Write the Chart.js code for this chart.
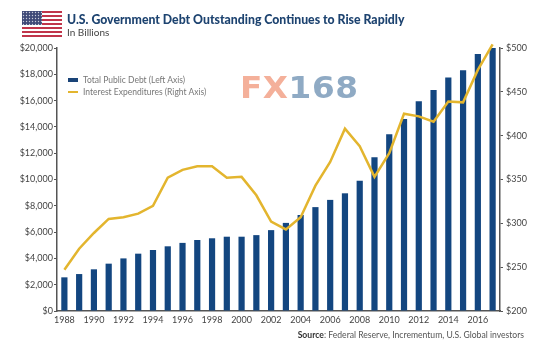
<!DOCTYPE html>
<html lang="en">
<head>
    <meta charset="UTF-8">
    <title>U.S. Government Debt Outstanding</title>
    <script src="https://cdn.jsdelivr.net/npm/chart.js"></script>
    <style>
        html, body { margin: 0; padding: 0; background: #fff; }
        #wrap { position: relative; width: 550px; height: 351px; overflow: hidden; font-family: Lato, "Open Sans", sans-serif; }
        #wrap div, #wrap svg { position: absolute; white-space: nowrap; }
        #flag { left: 22px; top: 11px; }
        #title { left: 67px; top: 12px; font-size: 12.25px; font-weight: 900; color: #1d4370; }
        #subtitle { left: 67px; top: 26px; font-size: 10px; color: #444; }
        .legend { left: 83px; font-size: 8.5px; color: #777; }
        .swatch { left: 68px; width: 10px; }
        #fx { left: 240px; top: 69px; font: bold 31px "DejaVu Sans", sans-serif; letter-spacing: 0.5px; color: #f4b09a; transform: scaleX(1.055); transform-origin: left; }
        #fx span { color: #8faac4; }
        #source { right: 26px; top: 330px; font-size: 8.6px; color: #555; }
        #source b { color: #333; }
    </style>
</head>
<body>
<div id="wrap">
    <canvas id="debtChart" width="550" height="351"></canvas>
    <svg id="flag" width="40" height="27" viewBox="0 0 40 27">
        <defs>
            <pattern id="stars" width="3" height="3" patternUnits="userSpaceOnUse">
                <rect width="3" height="3" fill="#3f4a78"/>
                <circle cx="1.5" cy="1.5" r="0.7" fill="#c9cddb"/>
            </pattern>
        </defs>
        <rect width="40" height="27" fill="#fff"/>
        <path d="M0 1h40M0 5h40M0 9h40M0 13h40M0 17h40M0 21h40M0 25h40" stroke="#c0354a" stroke-width="2"/>
        <rect width="20" height="14" fill="url(#stars)"/>
    </svg>
    <div id="title">U.S. Government Debt Outstanding Continues to Rise Rapidly</div>
    <div id="subtitle">In Billions</div>
    <div class="swatch" style="top:78px;height:4px;background:#1a4478"></div>
    <div class="legend" style="top:75px">Total Public Debt (Left Axis)</div>
    <div class="swatch" style="top:91px;height:2px;background:#e3b52e"></div>
    <div class="legend" style="top:87px">Interest Expenditures (Right Axis)</div>
    <div id="fx">FX<span>168</span></div>
    <div id="source"><b>Source</b>: Federal Reserve, Incrementum, U.S. Global investors</div>
</div>
<script>
    const years = ['1988','1989','1990','1991','1992','1993','1994','1995','1996','1997',
        '1998','1999','2000','2001','2002','2003','2004','2005','2006','2007',
        '2008','2009','2010','2011','2012','2013','2014','2015','2016','2017'];
    const totalDebt = [2560,2810,3170,3600,4000,4360,4640,4920,5180,5400,
        5530,5650,5650,5770,6150,6700,7300,7900,8450,8950,
        9900,11700,13450,14600,15950,16800,17750,18300,19550,20000];
    const interestExp = [247,271,289,305,307,311,320,352,361,365,
        365,352,353,332,302,293,307,343,370,408,
        388,353,380,425,422,416,439,438,475,504];
    const leftTicks = 2000;
    const rightTicks = 50;

    const tickFont = { family: 'Lato, "Open Sans", sans-serif', size: 9 };

    new Chart(document.getElementById('debtChart'), {
        data: {
            labels: years,
            datasets: [
                {
                    type: 'line',
                    label: 'Interest Expenditures (Right Axis)',
                    data: interestExp,
                    yAxisID: 'yRight',
                    borderColor: '#e3b52e',
                    borderWidth: 2.5,
                    pointRadius: 0,
                    tension: 0,
                    clip: false,
                    order: 0
                },
                {
                    type: 'bar',
                    label: 'Total Public Debt (Left Axis)',
                    data: totalDebt,
                    yAxisID: 'yLeft',
                    backgroundColor: '#134680',
                    barPercentage: 0.42,
                    categoryPercentage: 1,
                    order: 1
                }
            ]
        },
        options: {
            responsive: false,
            animation: false,
            layout: { padding: { top: 48, left: 0, right: 0, bottom: 0 } },
            plugins: { legend: { display: false }, title: { display: false }, tooltip: { enabled: false } },
            scales: {
                x: {
                    afterFit: s => { s.height = 40; },
                    border: { color: '#555', width: 1.5 },
                    grid: { display: false, drawTicks: false },
                    ticks: {
                        autoSkip: false, maxRotation: 0, color: '#444', font: tickFont, padding: 4,
                        callback: function (v, i) { return i % 2 === 0 ? years[i] : ''; }
                    }
                },
                yLeft: {
                    position: 'left',
                    min: 0, max: 20000,
                    afterFit: s => { s.width = 57; },
                    border: { color: '#555', width: 1.5 },
                    grid: { drawOnChartArea: false, tickLength: 3, color: '#555' },
                    ticks: {
                        stepSize: leftTicks, color: '#444', font: tickFont, padding: 1,
                        callback: v => '$' + v.toLocaleString('en-US')
                    }
                },
                yRight: {
                    position: 'right',
                    min: 200, max: 500,
                    afterFit: s => { s.width = 50; },
                    border: { color: '#555', width: 1.5 },
                    grid: { drawOnChartArea: false, tickLength: 3, color: '#555' },
                    ticks: {
                        stepSize: rightTicks, color: '#444', font: tickFont, padding: 3,
                        callback: v => '$' + v
                    }
                }
            }
        }
    });
</script>
</body>
</html>
